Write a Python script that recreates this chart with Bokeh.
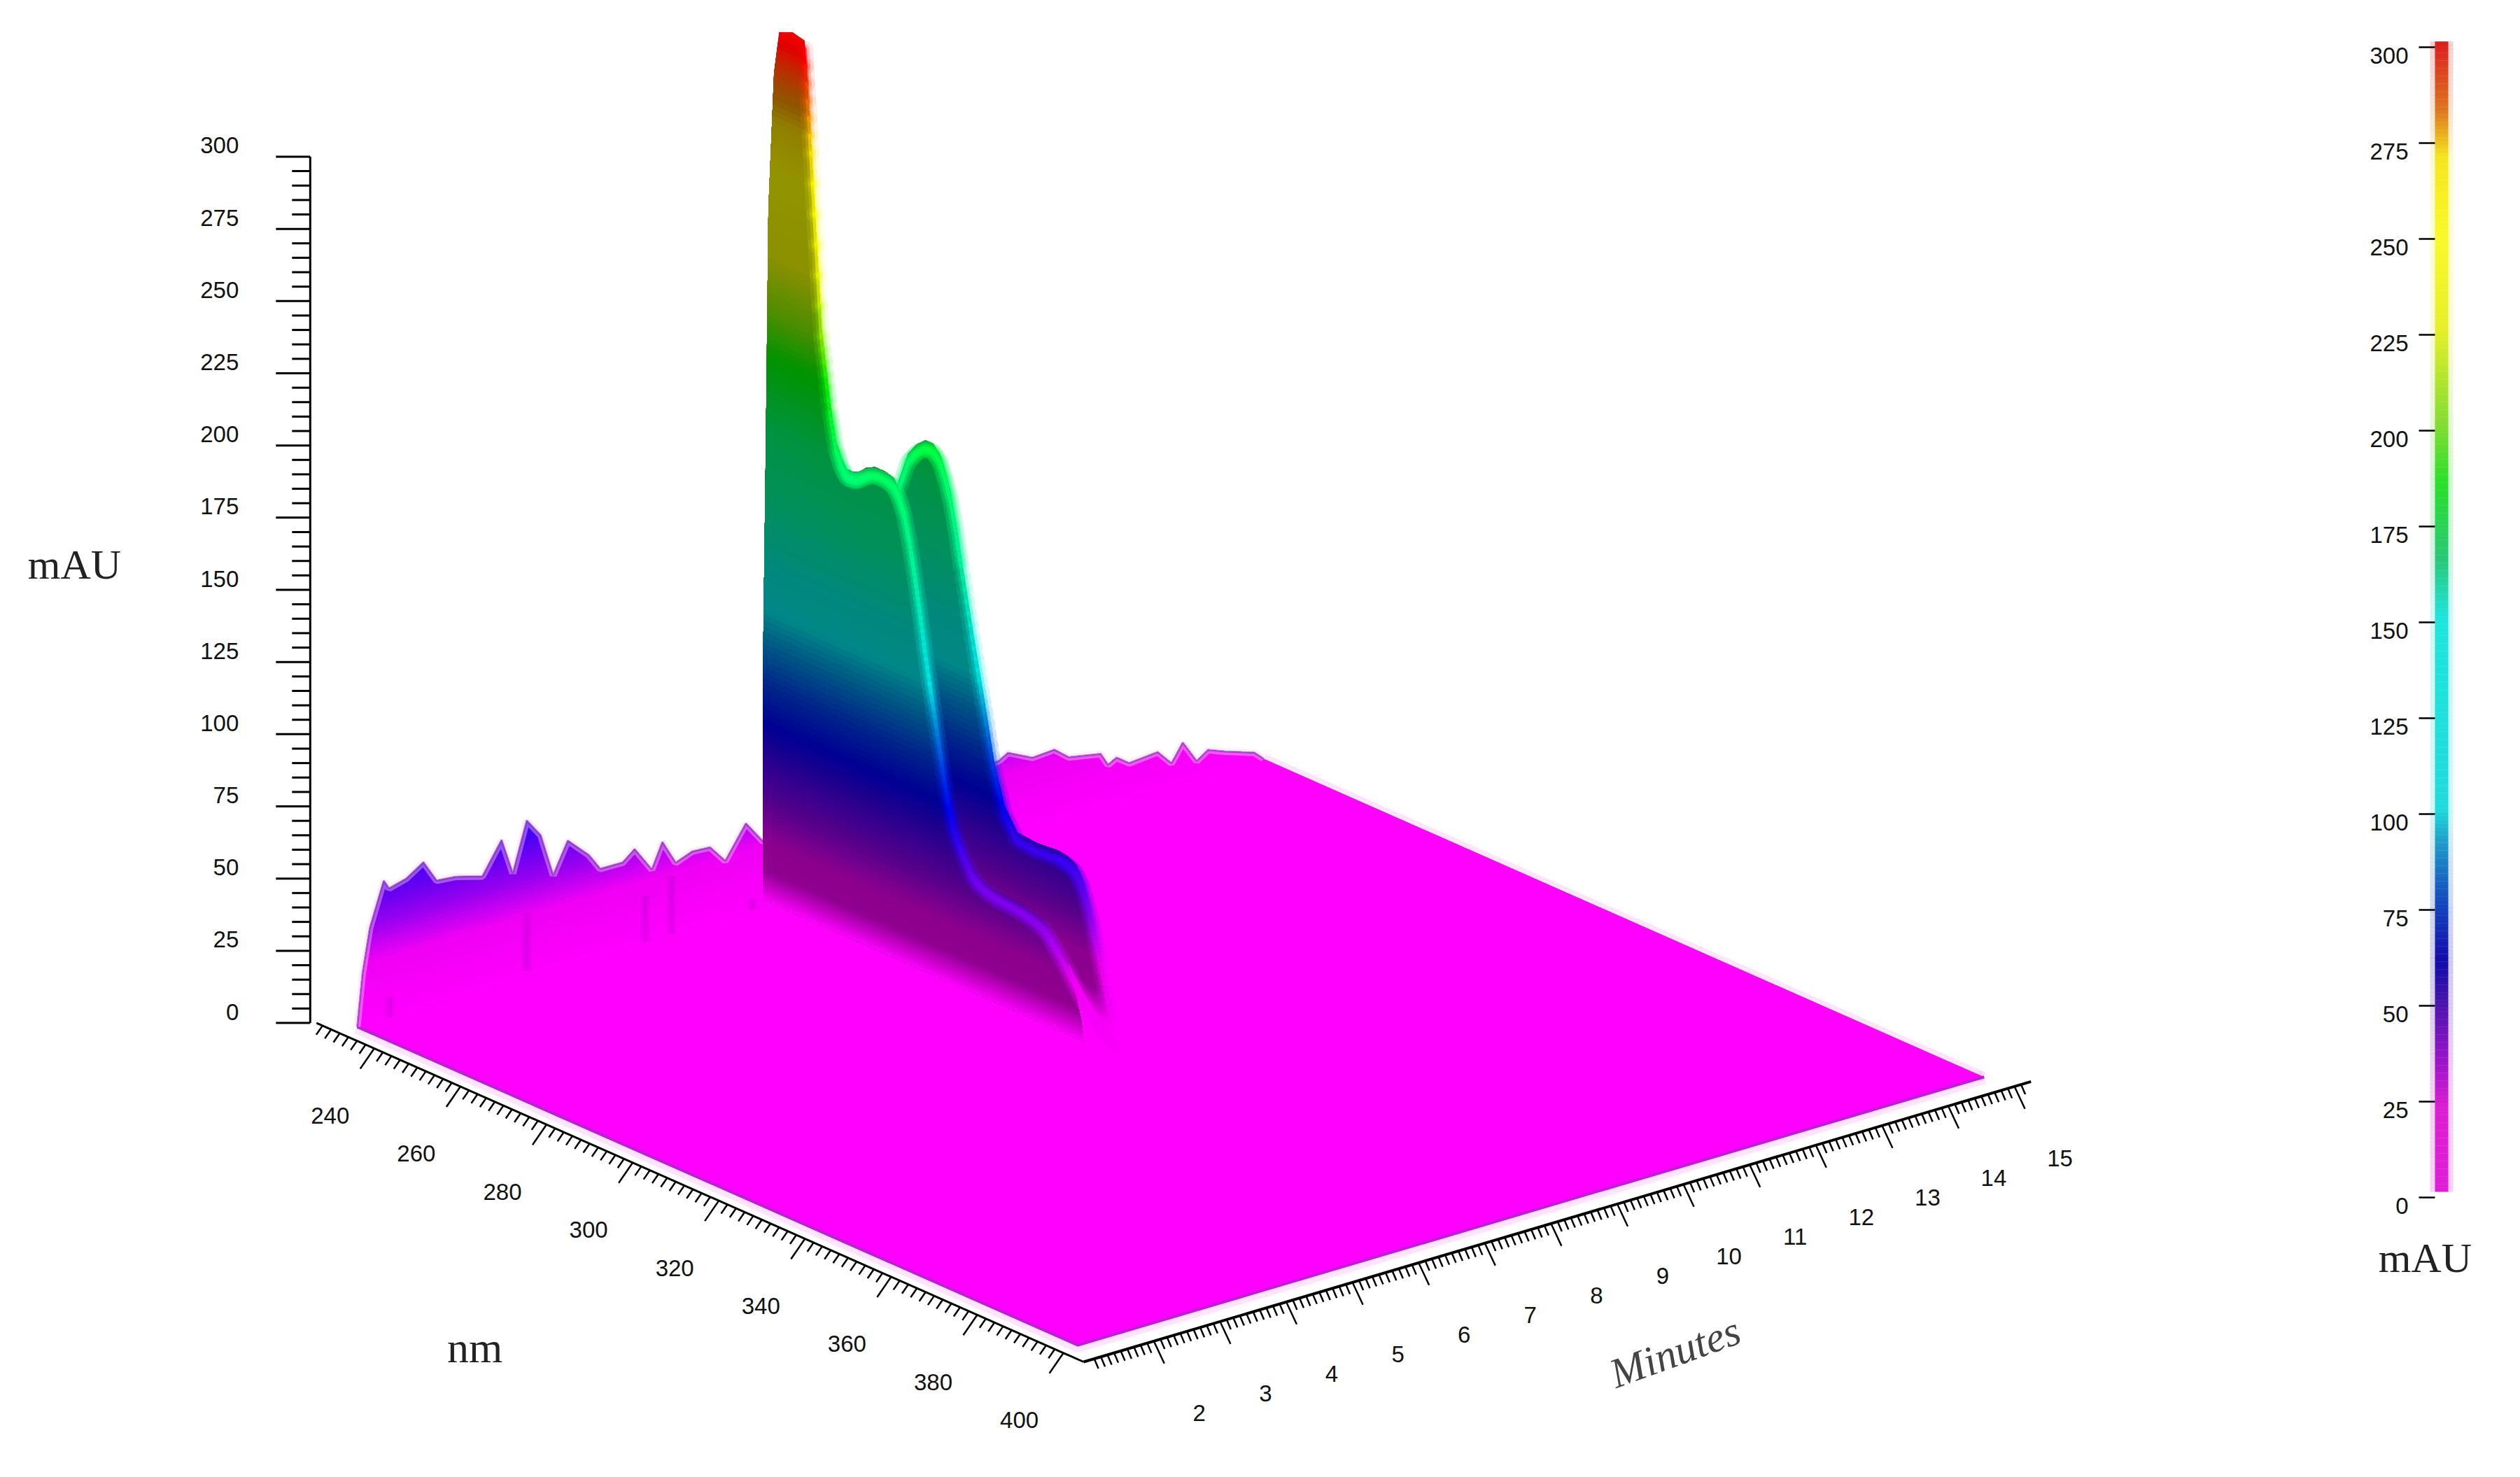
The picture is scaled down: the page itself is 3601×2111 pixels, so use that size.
from bokeh.core.properties import value
from bokeh.embed import file_html
from bokeh.models import Range1d
from bokeh.plotting import figure
from bokeh.resources import INLINE
import numpy as np

# tick labels
mau_ticks = [0, 25, 50, 75, 100, 125, 150, 175, 200, 225, 250, 275, 300]
nm_ticks = [240, 260, 280, 300, 320, 340, 360, 380, 400]
min_ticks = [2, 3, 4, 5, 6, 7, 8, 9, 10, 11, 12, 13, 14, 15]

# surface extent
t_start, t_end = 1.23, 14.92
nm_start, nm_end = 231.6, 398.9

# noise along the back edge of the surface (nm_start)
edge_t = [1.23, 1.31, 1.42, 1.63, 1.71, 1.97, 2.23, 2.43, 2.72, 3.12, 3.41, 3.58, 3.79, 4.0, 4.19, 4.41,
          4.73, 4.9, 5.24, 5.42, 5.68, 5.84, 6.04, 6.29, 6.56, 6.79, 7.1, 7.36, 8.0, 9.0, 10.0, 10.92,
          11.06, 11.43, 11.76, 11.98, 12.46, 12.57, 12.7, 12.89, 13.32, 13.53, 13.7, 13.91, 14.08,
          14.33, 14.78, 14.92]
edge_mau = [0, 18, 32.9, 47.9, 44.7, 46.3, 50.2, 42.5, 41.9, 39.3, 49.9, 37.2, 54.1, 47.6, 32.4, 42.9,
            35.7, 29.8, 29.7, 33.1, 24.3, 32.7, 24.2, 26.4, 26, 19.7, 30.6, 22.6, 24, 25, 25, 26.3,
            28.2, 24, 24.5, 20.4, 18.3, 13.8, 15.4, 12.2, 13.1, 7.8, 13.8, 6, 8.7,
            6.5, 3, 0]

# spectrum of the first peak
front_t = 7.5
front_nm = [229.4, 230.1, 230.7, 232.0, 233.2, 236.3, 239.1, 240.6, 243.0, 245.0, 246.4, 247.6, 248.9, 250.4, 251.8,
            253.5, 255.5, 257.8, 259.8, 261.0, 262.2, 263.4, 264.6, 265.8, 267.0, 268.7, 270.5, 272.0, 273.7,
            275.6, 278.0, 280.0, 282.9, 286.0, 289.5, 292.0, 294.6, 296.2, 297.8, 300.0, 302.1, 304.5, 307.0,
            309.0, 311.2, 312.5]
front_mau = [76, 158, 240, 288, 303, 305, 304, 269, 207, 182, 170, 165, 162, 162, 163,
             165.5, 167, 167, 166, 163, 158, 149.5, 139, 127, 114, 98, 81.5, 68, 56.4,
             49.5, 43, 40.5, 39, 38.5, 38, 37, 35.6, 33.2, 30, 25.5, 20.6, 15.5, 11.5,
             8.5, 6, 0]
# the first peak's dark flank rounds off here; past it only the tail remains
flank_end_nm = [300.0, 301.3, 302.4, 303.3, 304.0]
flank_end_mau = [25.5, 19, 13, 7, 0]

# spectrum of the second peak
back_t = 8.1
back_nm = [245.0, 251.8, 253.9, 255.8, 257.9, 259.7, 261.3, 262.6, 263.8, 265.0, 266.2, 268.8, 271.3, 273.7,
           276.3, 279.2, 283.7, 288.7, 291.0, 292.9, 294.4, 295.8, 297.0, 298.3, 300.0, 302.0]
back_mau = [120, 156, 166.6, 171, 174, 174, 171.4, 166, 159.6, 150, 138.8, 115.8, 95, 74,
            59.3, 52.1, 51.4, 52.1, 51.5, 49.9, 46, 39.5, 32, 24, 12, 1.7]

# darker streaks on the back edge
streak_t = [1.72, 3.79, 5.58, 5.98, 7.2]
streak_top = [7, 22, 16, 20, 4]
streak_low = [0, 2, 0, 0, 0]

# colour scale of the surface
scale_mau = [0, 22, 35, 50, 62, 75, 90, 102, 116, 140, 165, 190, 205, 225, 255, 272, 285, 300]
scale_r = [255, 240, 150, 70, 0, 0, 0, 0, 0, 0, 0, 0, 130, 240, 255, 250, 240, 255]
scale_g = [0, 0, 0, 0, 0, 60, 150, 235, 236, 250, 255, 255, 245, 250, 255, 220, 110, 0]
scale_b = [255, 245, 240, 245, 255, 240, 230, 235, 218, 160, 110, 0, 0, 0, 0, 0, 0, 0]

# colour scale of the legend bar
bar_mau = [0, 22, 35, 50, 60, 75, 90, 100, 150, 165, 185, 200, 225, 250, 270, 282, 300]
bar_r = [225, 220, 150, 70, 20, 20, 30, 30, 30, 40, 40, 130, 230, 250, 245, 220, 220]
bar_g = [30, 30, 20, 20, 10, 70, 150, 220, 230, 200, 225, 220, 240, 250, 230, 120, 30]
bar_b = [215, 210, 200, 170, 170, 190, 200, 220, 220, 120, 40, 50, 40, 40, 30, 30, 30]


def project(t, nm, mau):
    x = 1548 + (np.asarray(t) - 0.94) * 94.6 + (np.asarray(nm) - 404.7) * 6.155
    y = 1946 - (np.asarray(t) - 0.94) * 28 + (np.asarray(nm) - 404.7) * 2.72 - np.asarray(mau) * 4.127
    return x, y


def colour(mau, dim=1.0):
    r = np.interp(mau, scale_mau, scale_r) * dim
    g = np.interp(mau, scale_mau, scale_g) * dim
    b = np.interp(mau, scale_mau, scale_b) * dim
    return "#%02x%02x%02x" % (int(r), int(g), int(b))


def capped(us, zs, cap):
    # the part of a profile below cap, with the crossings put in
    out_u, out_z = [], []
    for i in range(len(us)):
        if i > 0 and (zs[i - 1] - cap) * (zs[i] - cap) < 0:
            f = (cap - zs[i - 1]) / (zs[i] - zs[i - 1])
            out_u.append(us[i - 1] + f * (us[i] - us[i - 1]))
            out_z.append(cap)
        out_u.append(us[i])
        out_z.append(min(zs[i], cap))
    return np.array(out_u), np.array(out_z)


def wall_shade(mau):
    if mau < 11:
        return 1 - 0.42 * mau / 11
    if mau > 280:
        return 0.58 + 0.38 * (mau - 280) / 25
    return 0.58


p = figure(width=3585, height=2095, x_range=Range1d(0, 3585), y_range=Range1d(2095, 0),
           output_backend="svg", toolbar_location=None, min_border=0)
p.axis.visible = False
p.grid.visible = False
p.outline_line_color = None
p.background_fill_color = "white"

# legend scale
p.extra_y_ranges["legend"] = Range1d((1711 - 2095) / 5.48, 1711 / 5.48)

# floor
fx, fy = project([t_start, t_start, t_end, t_end], [nm_start, nm_end, nm_end, nm_start], [0, 0, 0, 0])
p.line(list(fx[:3]), list(fy[:3]), line_color="#ffb0ff", line_width=20, line_alpha=0.35)
p.line([fx[2], fx[3]], [fy[2], fy[3]], line_color="#ffb0ff", line_width=14, line_alpha=0.35)
p.patch(list(fx), list(fy), fill_color="#ff00ff", line_color=None)
p.line(list(fx[:3]), list(fy[:3]), line_color="#b028c8", line_width=4)


def draw_edge():
    xs, ys, cols = [], [], []
    for cap in np.arange(56, 0, -1.5):
        u, z = capped(edge_t, edge_mau, cap)
        tx, ty = project(u, nm_start, z)
        bx, by = project(u, nm_start, 0 * z)
        xs.append(list(tx) + list(bx[::-1]))
        ys.append(list(ty) + list(by[::-1]))
        cols.append(colour(cap))
    p.patches(xs, ys, fill_color=cols, line_color=None)


def draw_wall(t, nms, maus):
    xs, ys, cols = [], [], []
    caps = list(np.arange(max(maus), 16, -2.0)) + list(np.arange(16, 0, -0.75))
    for cap in caps:
        u, z = capped(nms, maus, cap)
        tx, ty = project(t, u, z)
        bx, by = project(t, u, 0 * z)
        xs.append(list(tx) + list(bx[::-1]))
        ys.append(list(ty) + list(by[::-1]))
        cols.append(colour(cap, wall_shade(cap)))
    p.patches(xs, ys, fill_color=cols, line_color=None)


def draw_crest(t, nms, maus, first):
    xs, ys, cols = [], [], []
    for i in range(first, len(nms) - 1):
        for k in range(6):
            # pieces of one segment, only so that the colour runs smoothly
            a, b = k / 6, (k + 1) / 6
            n0, n1 = nms[i] + a * (nms[i + 1] - nms[i]), nms[i] + b * (nms[i + 1] - nms[i])
            z0, z1 = maus[i] + a * (maus[i + 1] - maus[i]), maus[i] + b * (maus[i + 1] - maus[i])
            x, y = project(t, [n0, n1], [z0 - 3, z1 - 3])
            xs.append(list(x))
            ys.append(list(y))
            cols.append(colour((z0 + z1) / 2))
    p.multi_line(xs, ys, line_color=cols, line_width=24, line_alpha=0.1, line_cap="round")
    p.multi_line(xs, ys, line_color=cols, line_width=14, line_alpha=0.2, line_cap="round")
    p.multi_line(xs, ys, line_color=cols, line_width=6, line_alpha=0.65, line_cap="round")


draw_edge()
ex, ey = project(edge_t, nm_start, edge_mau)
p.line(list(ex), list(ey), line_color="#ffd0ff", line_width=10, line_alpha=0.4)
p.line(list(ex), list(ey), line_color="#7a20b0", line_width=3, line_alpha=0.5)

sx0, sy0 = project(streak_t, nm_start, streak_top)
sx1, sy1 = project(streak_t, nm_start, streak_low)
p.segment(list(sx0), list(sy0), list(sx1), list(sy1), line_color="#8000a8", line_width=14, line_alpha=0.08)
p.segment(list(sx0), list(sy0), list(sx1), list(sy1), line_color="#8000a8", line_width=6, line_alpha=0.12)

draw_wall(back_t, back_nm, back_mau)
draw_crest(back_t, back_nm, back_mau, 1)

# bare tail of the first peak over magenta, then its flank, which rounds off before the tail
tail = [i for i, n in enumerate(front_nm) if n >= flank_end_nm[0]]
tx, ty = project(front_t, [front_nm[i] for i in tail], [front_mau[i] for i in tail])
bx, by = project(front_t, [front_nm[i] for i in tail], [-8] * len(tail))
p.patch(list(tx) + list(bx[::-1]), list(ty) + list(by[::-1]), fill_color="#ff00ff", line_color=None)
flank = [i for i, n in enumerate(front_nm) if n < flank_end_nm[0]]
draw_wall(front_t, [front_nm[i] for i in flank] + flank_end_nm, [front_mau[i] for i in flank] + flank_end_mau)
draw_crest(front_t, front_nm, front_mau, 6)

# mAU axis
ax, ay = project(0.94, 226.6, 0)
ax = ax - 9
tick_y = [float(project(0.94, 226.6, m)[1]) for m in np.arange(0, 301, 5)]
p.line([ax, ax], [tick_y[0], tick_y[-1]], line_color="black", line_width=3)
p.segment([ax - (49 if i % 5 == 0 else 26) for i in range(len(tick_y))], tick_y,
          [ax] * len(tick_y), tick_y, line_color="black", line_width=3)
p.text([ax - 102] * len(mau_ticks), [float(project(0.94, 226.6, m)[1]) - 16 for m in mau_ticks],
       text=[str(m) for m in mau_ticks], text_align="right", text_baseline="middle",
       text_font=value("Liberation Sans"), text_font_size="33px", text_color="#111111")

# nm axis
nx, ny = project(0.94, [226.6, 404.7], [0, 0])
p.line(list(nx), list(ny), line_color="black", line_width=3)
for n in np.arange(228, 401, 2):
    x, y = project(0.94, n, 0)
    long_tick = n % 20 == 0
    p.line([x, x + (-20 if long_tick else -9)], [y, y + (29 if long_tick else 13)], line_color="black", line_width=2.5)
lx, ly = project(0.94, nm_ticks, [0] * len(nm_ticks))
p.text(list(lx - 63), list(ly + 96), text=[str(n) for n in nm_ticks], text_align="center", text_baseline="middle",
       text_font=value("Liberation Sans"), text_font_size="33px", text_color="#111111")

# minutes axis
mx, my = project([0.94, 15.25], 404.7, [0, 0])
p.line(list(mx), list(my), line_color="black", line_width=4)
for i in range(11, 152):
    x, y = project(i / 10, 404.7, 0)
    long_tick = i % 10 == 0 and i >= 20
    p.line([x, x + (15 if long_tick else 6)], [y, y + (32 if long_tick else 14)], line_color="black", line_width=2.5)
lx, ly = project(min_ticks, 404.7, [0] * len(min_ticks))
p.text(list(lx + 65), list(ly + 103), text=[str(m) for m in min_ticks], text_align="center", text_baseline="middle",
       text_font=value("Liberation Sans"), text_font_size="33px", text_color="#111111")

# axis titles
p.text([106], [806], text=["mAU"], text_align="center", text_baseline="middle",
       text_font=value("Liberation Serif"), text_font_size="60px", text_color="#222222")
p.text([678], [1925], text=["nm"], text_align="center", text_baseline="middle",
       text_font=value("Liberation Serif"), text_font_size="62px", text_color="#222222")
p.text([2393], [1932], text=["Minutes"], angle=20, angle_units="deg", text_align="center", text_baseline="middle",
       text_font=value("Liberation Serif"), text_font_style="italic", text_font_size="60px", text_color="#444444")

# colour legend
bands = np.arange(0, 300)
soft = ["#%02x%02x%02x" % (int(np.interp(b + 0.5, bar_mau, bar_r)), int(np.interp(b + 0.5, bar_mau, bar_g)),
                           int(np.interp(b + 0.5, bar_mau, bar_b))) for b in bands]
p.hbar(y=list(bands + 2), height=1.05, left=3472, right=3505, fill_color=soft, line_color=None, fill_alpha=0.2,
       y_range_name="legend")
p.hbar(y=list(bands + 2), height=1.05, left=3479, right=3498, fill_color=soft, line_color=None,
       y_range_name="legend")
p.segment([3456] * len(mau_ticks), mau_ticks, [3479] * len(mau_ticks), mau_ticks, line_color="black", line_width=2.5,
          y_range_name="legend")
p.text([3441] * len(mau_ticks), [m - 2.2 for m in mau_ticks], text=[str(m) for m in mau_ticks], text_align="right",
       text_baseline="middle", text_font=value("Liberation Sans"), text_font_size="33px", text_color="#111111",
       y_range_name="legend")
p.text([3465], [1797], text=["mAU"], text_align="center", text_baseline="middle",
       text_font=value("Liberation Serif"), text_font_size="60px", text_color="#222222")

open("out.html", "w").write(file_html(p, INLINE))
